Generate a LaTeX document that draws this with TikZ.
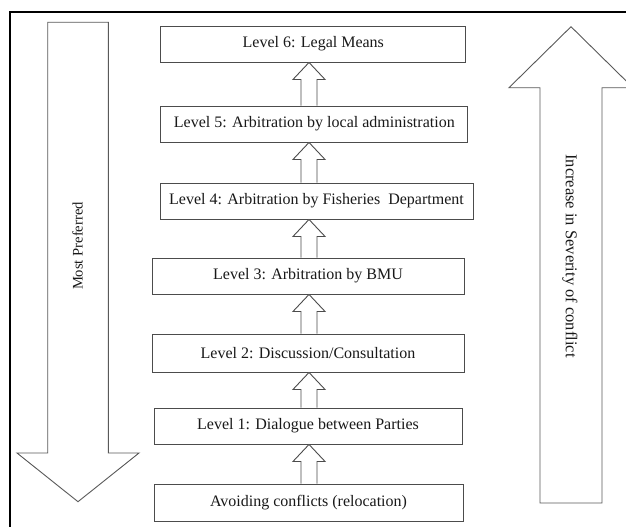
\documentclass[tikz,border=0pt]{standalone}
\usepackage{fontspec}
\setmainfont{Liberation Serif}
\usetikzlibrary{calc}
\newcommand\blockupbetween[2]{%
  \draw[blockarr] let \p1=(#1.north), \p2=(#2.south) in
    (301pt,\y1) -- (301pt,\y2-17pt) -- (293pt,\y2-17pt) -- (309pt,\y2)
    -- (325pt,\y2-17pt) -- (317pt,\y2-17pt) -- (317pt,\y1);}
\begin{document}
\begin{tikzpicture}[x=1pt,y=-1pt,
  box/.style={draw=black!70, line width=0.9pt, fill=white, inner sep=0pt,
    font=\fontsize{16}{19}\selectfont, text=black!90},
  blockarr/.style={draw=black!70, line width=0.9pt, fill=white, line join=miter},
  bigarr/.style={draw=black!65, line width=0.9pt, fill=white, line join=miter},
  side/.style={text=black!90}]
\useasboundingbox (0,0) rectangle (626,527);
\clip (0,0) rectangle (626,527);
\fill[white] (0,0) rectangle (626,527);
% frame
\draw[line width=1.8pt] (10,530) -- (10,12) -- (630,12);
% big arrows
\draw[bigarr] (47.7,22.3) -- (108.3,22.3) -- (108.3,453) -- (139,453)
  -- (78,501.7) -- (17,453) -- (47.7,453) -- cycle;
\draw[bigarr] (540,503) -- (540,87.7) -- (509,87.7) -- (571,26.7)
  -- (633,87.7) -- (602,87.7) -- (602,503) -- cycle;
\node[side, rotate=90, font=\fontsize{14.6}{17}\selectfont] (most) at (77.5,246) {Most Preferred};
\node[side, rotate=-90, font=\fontsize{16.5}{19}\selectfont] (sev) at (570,256) {Increase in Severity of conflict};
% boxes
\node[box, minimum width=305, minimum height=36] (b6) at (313.3,44) {Level 6: Legal Means};
\node[box, minimum width=307, minimum height=36] (b5) at (314.3,124) {Level 5: Arbitration by local administration};
\node[box, minimum width=313, minimum height=36] (b4) at (316.5,201) {Level 4: Arbitration by Fisheries\ \ Department};
\node[box, minimum width=312, minimum height=36] (b3) at (308,276) {Level 3: Arbitration by BMU};
\node[box, minimum width=312, minimum height=38] (b2) at (308,353) {Level 2: Discussion/Consultation};
\node[box, minimum width=308, minimum height=36] (b1) at (308,426) {Level 1: Dialogue between Parties};
\node[box, minimum width=309, minimum height=37] (b0) at (308.5,502.5) {Avoiding conflicts (relocation)};
% connectors
\blockupbetween{b0}{b1}
\blockupbetween{b1}{b2}
\blockupbetween{b2}{b3}
\blockupbetween{b3}{b4}
\blockupbetween{b4}{b5}
\blockupbetween{b5}{b6}
\end{tikzpicture}
\end{document}
